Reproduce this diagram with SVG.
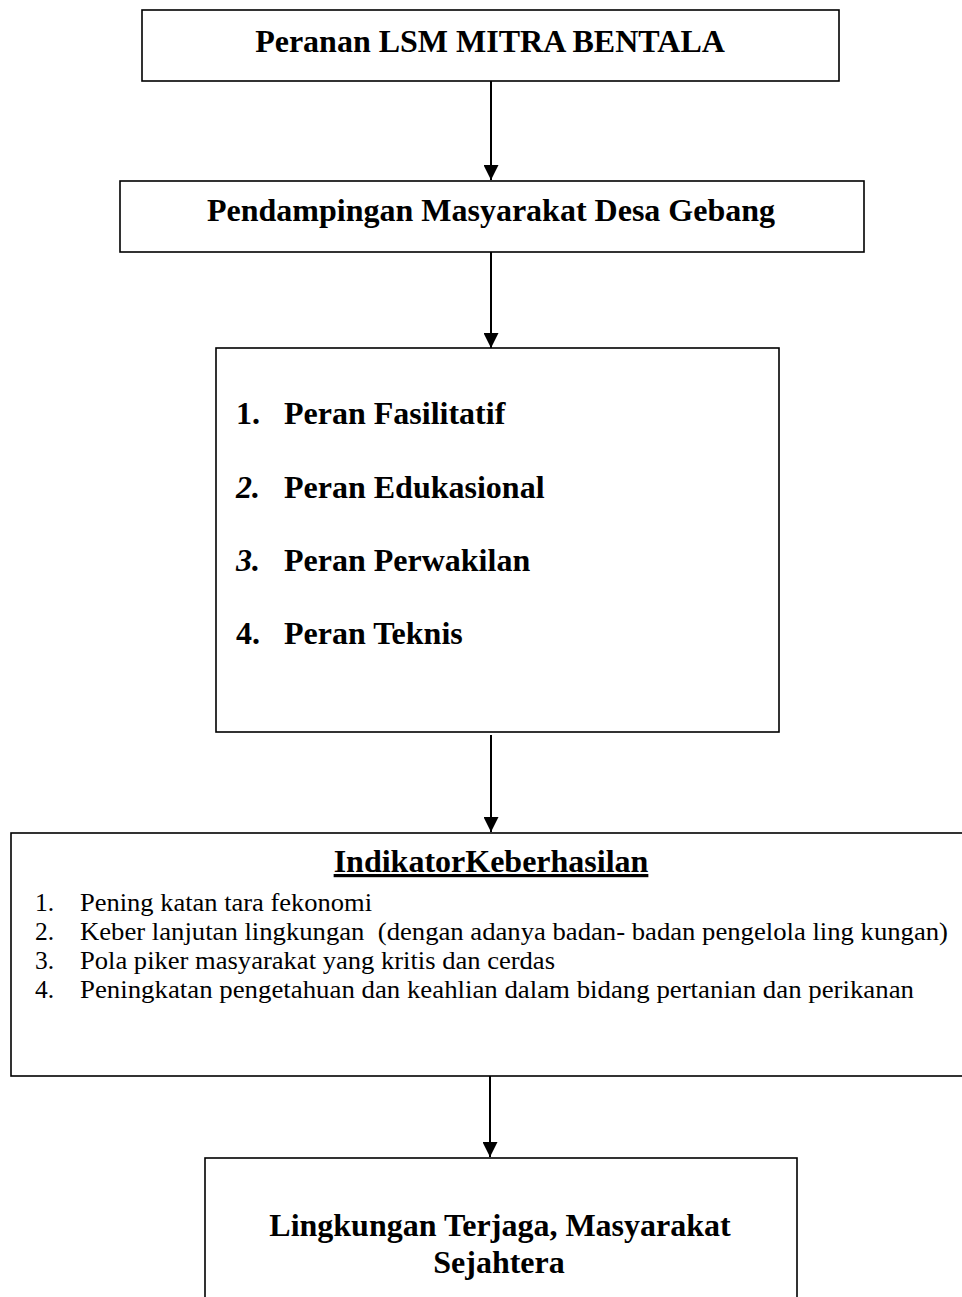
<svg xmlns="http://www.w3.org/2000/svg" width="962" height="1297" viewBox="0 0 962 1297">
<style>
.box{fill:#fff;stroke:#000;stroke-width:1.6}
.h{font-family:"Liberation Serif","Times New Roman",serif;font-weight:bold;font-size:32px;fill:#000}
.t{font-family:"Liberation Serif","Times New Roman",serif;font-size:25.5px;fill:#000;white-space:pre}
.c{stroke:#000;stroke-width:2;fill:none}
</style>
<defs>
<marker id="ah" markerWidth="15" markerHeight="15" refX="15" refY="7.5" orient="auto" markerUnits="userSpaceOnUse">
<path d="M0,0 L15,7.5 L0,15 Z" fill="#000"/>
</marker>
</defs>
<rect width="962" height="1297" fill="#fff"/>
<g id="connectors">
<line class="c" x1="491" y1="81" x2="491" y2="180" marker-end="url(#ah)"/>
<line class="c" x1="491" y1="252" x2="491" y2="348" marker-end="url(#ah)"/>
<line class="c" x1="491" y1="735" x2="491" y2="832" marker-end="url(#ah)"/>
<line class="c" x1="490" y1="1063" x2="490" y2="1157" marker-end="url(#ah)"/>
</g>
<g id="node1">
<rect class="box" x="142" y="10" width="697" height="71"/>
<text class="h" x="490" y="52" text-anchor="middle">Peranan LSM MITRA BENTALA</text>
</g>
<g id="node2">
<rect class="box" x="120" y="181" width="744" height="71"/>
<text class="h" x="491" y="221" text-anchor="middle">Pendampingan Masyarakat Desa Gebang</text>
</g>
<g id="node3">
<rect class="box" x="216" y="348" width="563" height="384"/>
<text class="h" x="236" y="424">1.</text>
<text class="h" x="284" y="424">Peran Fasilitatif</text>
<text class="h" x="236" y="498" font-style="italic">2.</text>
<text class="h" x="284" y="498">Peran Edukasional</text>
<text class="h" x="236" y="571" font-style="italic">3.</text>
<text class="h" x="284" y="571">Peran Perwakilan</text>
<text class="h" x="236" y="644">4.</text>
<text class="h" x="284" y="644">Peran Teknis</text>
</g>
<g id="node4">
<rect class="box" x="11" y="833" width="960" height="243"/>
<text class="h" x="491" y="872" text-anchor="middle" font-size="30" text-decoration="underline">IndikatorKeberhasilan</text>
<text class="t" x="35" y="911">1.</text>
<text class="t" x="80" y="911" textLength="292" lengthAdjust="spacingAndGlyphs">Pening katan tara fekonomi</text>
<text class="t" x="35" y="940">2.</text>
<text class="t" x="80" y="940" textLength="868" lengthAdjust="spacingAndGlyphs">Keber lanjutan lingkungan  (dengan adanya badan- badan pengelola ling kungan)</text>
<text class="t" x="35" y="969">3.</text>
<text class="t" x="80" y="969" textLength="475" lengthAdjust="spacingAndGlyphs">Pola piker masyarakat yang kritis dan cerdas</text>
<text class="t" x="35" y="998">4.</text>
<text class="t" x="80" y="998" textLength="834" lengthAdjust="spacingAndGlyphs">Peningkatan pengetahuan dan keahlian dalam bidang pertanian dan perikanan</text>
</g>
<g id="node5">
<rect class="box" x="205" y="1158" width="592" height="160"/>
<text class="h" x="500" y="1236" text-anchor="middle">Lingkungan Terjaga, Masyarakat</text>
<text class="h" x="499" y="1273" text-anchor="middle">Sejahtera</text>
</g>
</svg>
